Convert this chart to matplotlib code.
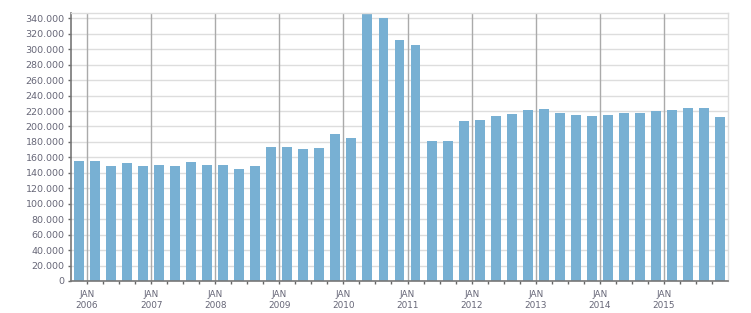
import numpy as np
import matplotlib
matplotlib.use("Agg")
import matplotlib.pyplot as plt
from matplotlib.ticker import FuncFormatter, FixedLocator

## Quarterly values, Q4 2005 .. Q4 2015
values = [155300, 155300, 148800, 152700, 148800, 150000, 148800, 154000, 150000, 150000, 145000,
          148800, 173400, 173400, 170800, 172100, 190200, 185000, 345500, 340300, 311900, 305400,
          181200, 181200, 207000, 208300, 213500,
          216100, 221300, 222600, 217400, 214800, 213500, 214800, 217400, 217400, 220000, 221300,
          223900, 223900, 212200]
years = ["2006", "2007", "2008", "2009", "2010", "2011", "2012", "2013", "2014", "2015"]
year_labels = ["JAN\n" + y for y in years]

bar_color = "#78b0d3"
text_color = "#666677"

fig = plt.figure(figsize=(7.51, 3.13), dpi=100)
ax = fig.add_axes([71/751, 1 - 281/313, (728 - 71)/751, (281 - 13)/313])

x = np.arange(len(values)) - 0.5
ax.bar(x, values, width=0.62, color=bar_color, zorder=2)

ax.set_xlim(-1, 40)
ax.set_ylim(0, 346900)

# y axis
ax.set_yticks(np.arange(0, 340001, 20000))
ax.yaxis.set_major_formatter(FuncFormatter(lambda v, p: "{:,.0f}".format(v).replace(",", ".")))
ax.grid(axis="y", color="#dddddd", linewidth=1, zorder=0)

# x axis: years at JAN, quarters as minor ticks
major = [4 * i for i in range(len(years))]
ax.set_xticks(major)
ax.set_xticklabels(year_labels, linespacing=1.35)
ax.xaxis.set_minor_locator(FixedLocator([q for q in range(1, 40) if q % 4 != 0]))
for m in major:
    ax.axvline(m, color="#aaaaaa", linewidth=1, zorder=1)

ax.set_axisbelow(True)

ax.tick_params(axis="both", which="major", labelcolor=text_color,
               color="#666666", length=2.5, width=1)
ax.tick_params(axis="x", which="major", pad=4, labelsize=6.4)
ax.tick_params(axis="y", which="major", pad=2, labelsize=6.8)
ax.tick_params(axis="x", which="minor", color="#666666", length=2.5, width=1)

for s in ["top", "right"]:
    ax.spines[s].set_color("#dddddd")
    ax.spines[s].set_linewidth(1)
for s in ["left", "bottom"]:
    ax.spines[s].set_color("#777777")
    ax.spines[s].set_linewidth(1.2)

fig.savefig("out.png", dpi=100)
